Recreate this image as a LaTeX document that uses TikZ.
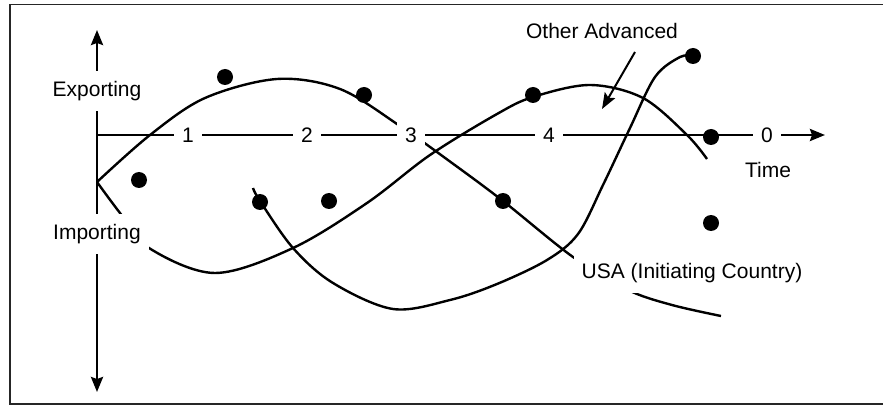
\documentclass[tikz,border=0pt]{standalone}
\usepackage{fontspec}
\setmainfont{Liberation Sans}
\usetikzlibrary{arrows.meta}
\begin{document}
\begin{tikzpicture}[x=1pt,y=-1pt,
  curve/.style={line width=2.4pt,line join=round},
  axisline/.style={line width=2.6pt},
  axistip/.style={-{Stealth[length=15pt,width=12pt,inset=2pt]}},
  cutlabel/.style={fill=white,inner xsep=8pt,inner ysep=10pt,
    font=\fontsize{21}{24}\selectfont},
  plainlabel/.style={inner sep=2pt,font=\fontsize{21}{24}\selectfont},
  dot/.style={circle,fill=black,minimum size=16pt,inner sep=0pt},
  frame/.style={line width=1.8pt,draw=black!85}]
\useasboundingbox (0,0) rectangle (883,406);
\fill[white] (0,0) rectangle (883,406);
\draw[frame] (890,4.5) -- (10,4.5) -- (10,404) -- (890,404);

% axes
\coordinate (ytop) at (97,30);
\coordinate (ybot) at (97,392);
\coordinate (origin) at (97,135);
\coordinate (tend) at (825,135);
\draw[axisline,{Stealth[length=15pt,width=12pt,inset=2pt]}-{Stealth[length=15pt,width=12pt,inset=2pt]}] (ybot) -- (ytop);
\draw[axisline,axistip] (origin) -- (tend);

% USA (initiating country)
\draw[curve] plot[smooth,tension=0.55] coordinates {
  (97,182) (150,135) (205,98) (277,79) (340,89) (400,126) (452,163)
  (503,201) (573,257) (628,290) (672,305) (721,316)};
% other advanced
\draw[curve] plot[smooth,tension=0.55] coordinates {
  (97,182) (120,213) (149,248) (215,273) (293,248) (367,203) (430,155)
  (497,114) (533,97) (590,85) (643,98) (687,135) (707,159)};
% third curve
\draw[curve] plot[smooth,tension=0.55] coordinates {
  (253,188) (260,201) (293,248) (333,283) (393,309) (450,300) (497,284)
  (547,260) (578,234) (603,185) (630,128) (655,77) (680,57) (693,56)};

% labels that interrupt the lines
\node[cutlabel] (exp) at (97,91) {Exporting};
\node[cutlabel] (imp) at (97,234) {Importing};
\node[cutlabel] (t1) at (188,135) {1};
\node[cutlabel] (t2) at (307,135) {2};
\node[cutlabel] (t3) at (411,135) {3};
\node[cutlabel] (t4) at (549,135) {4};
\node[cutlabel] (t0) at (767,135) {0};
\node[cutlabel] (usa) at (692,273) {USA (Initiating Country)};
\node[plainlabel] (time) at (768,170) {Time};
\node[plainlabel] (oth) at (602,31) {Other Advanced};

% pointer to the other-advanced curve
\coordinate (othfrom) at (635,52);
\coordinate (othto) at (602,109);
\draw[line width=2pt,-{Stealth[length=16pt,width=12pt,inset=3pt]}] (othfrom) -- (othto);

% data points
\node[dot] (d1) at (225,77) {};
\node[dot] (d2) at (364,95) {};
\node[dot] (d3) at (139,180) {};
\node[dot] (d4) at (260,202) {};
\node[dot] (d5) at (329,201) {};
\node[dot] (d6) at (533,95) {};
\node[dot] (d7) at (693,56) {};
\node[dot] (d8) at (711,137) {};
\node[dot] (d9) at (503,201) {};
\node[dot] (d10) at (711,223) {};
\end{tikzpicture}
\end{document}
